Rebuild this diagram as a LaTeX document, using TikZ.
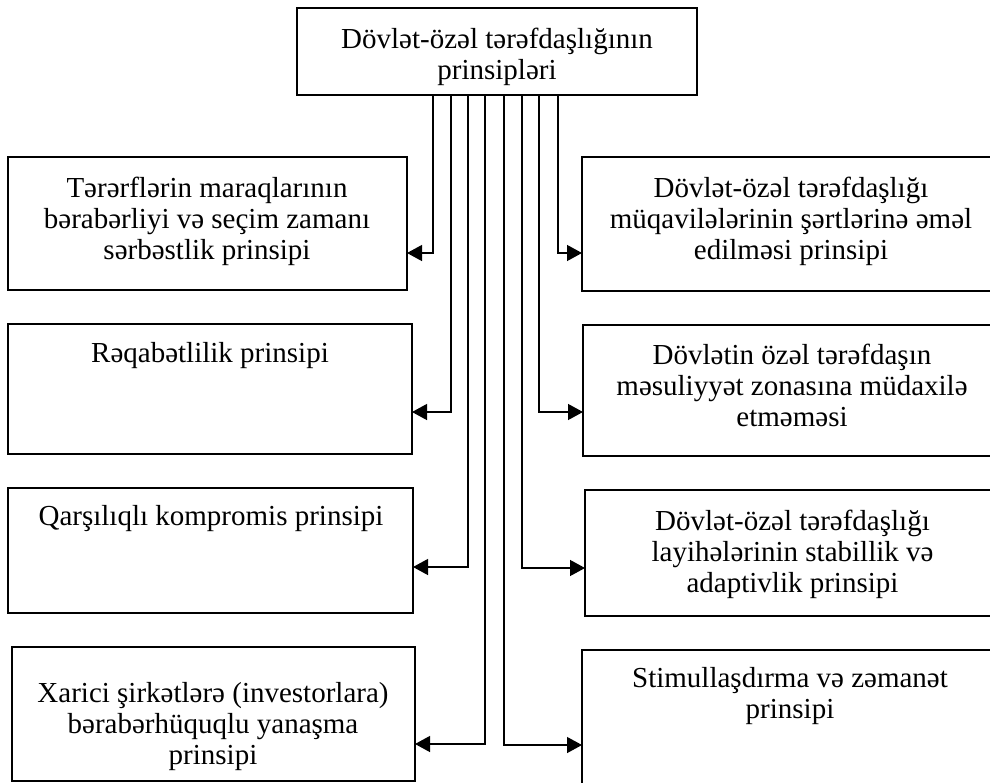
\documentclass[tikz,border=0pt]{standalone}
\usepackage{fontspec}
\setmainfont{Liberation Serif}
\usetikzlibrary{arrows.meta}
\begin{document}
\begin{tikzpicture}[x=1pt,y=-1pt,
  box/.style={draw, line width=1.1pt, inner sep=0pt, outer sep=0pt, anchor=north west},
  lbl/.style={anchor=north, inner sep=0pt, align=center, font=\fontsize{29}{31}\selectfont},
  conn/.style={line width=1.3pt, -{Triangle[length=15pt,width=16pt]}}]
\useasboundingbox (0,0) rectangle (990,782);
\clip (0,0) rectangle (990,782);
% boxes
\node[box, minimum width=400pt, minimum height=87pt] (top) at (297,8) {};
\node[box, minimum width=399pt, minimum height=133pt] (L1) at (8,157) {};
\node[box, minimum width=404pt, minimum height=130pt] (L2) at (8,324) {};
\node[box, minimum width=405pt, minimum height=125pt] (L3) at (8,488) {};
\node[box, minimum width=403pt, minimum height=134pt] (L4) at (12,647) {};
\node[box, minimum width=420pt, minimum height=134pt] (R1) at (582,157) {};
\node[box, minimum width=420pt, minimum height=131pt] (R2) at (583,325) {};
\node[box, minimum width=420pt, minimum height=126pt] (R3) at (585,490) {};
\node[box, minimum width=420pt, minimum height=150pt] (R4) at (582,650) {};
% texts
\node[lbl] (ttop) at (497,26.3) {\strut Dövlət-özəl tərəfdaşlığının\\prinsipləri};
\node[lbl] (tL1) at (207,175.3) {\strut Tərərflərin maraqlarının\\bərabərliyi və seçim zamanı\\sərbəstlik prinsipi};
\node[lbl] (tL2) at (210,340.3) {\strut Rəqabətlilik prinsipi};
\node[lbl] (tL3) at (211,503.3) {\strut Qarşılıqlı kompromis prinsipi};
\node[lbl] (tL4) at (213,680.3) {\strut Xarici şirkətlərə (investorlara)\\bərabərhüquqlu yanaşma\\prinsipi};
\node[lbl] (tR1) at (791,175.3) {\strut Dövlət-özəl tərəfdaşlığı\\müqavilələrinin şərtlərinə əməl\\edilməsi prinsipi};
\node[lbl] (tR2) at (792,342.3) {\strut Dövlətin özəl tərəfdaşın\\məsuliyyət zonasına müdaxilə\\etməməsi};
\node[lbl] (tR3) at (792.5,508.3) {\strut Dövlət-özəl tərəfdaşlığı\\layihələrinin stabillik və\\adaptivlik prinsipi};
\node[lbl] (tR4) at (790,665.3) {\strut Stimullaşdırma və zəmanət\\prinsipi};
% branch points
\coordinate (b1) at (433,253);
\coordinate (b2) at (451,412);
\coordinate (b3) at (468,567);
\coordinate (b4) at (485,744);
\coordinate (b5) at (504,745);
\coordinate (b6) at (522,568);
\coordinate (b7) at (539,412);
\coordinate (b8) at (558,253);
% connectors
\draw[conn] (top.south -| b1) -- (b1) -- (L1.east |- b1);
\draw[conn] (top.south -| b2) -- (b2) -- (L2.east |- b2);
\draw[conn] (top.south -| b3) -- (b3) -- (L3.east |- b3);
\draw[conn] (top.south -| b4) -- (b4) -- (L4.east |- b4);
\draw[conn] (top.south -| b5) -- (b5) -- (R4.west |- b5);
\draw[conn] (top.south -| b6) -- (b6) -- (R3.west |- b6);
\draw[conn] (top.south -| b7) -- (b7) -- (R2.west |- b7);
\draw[conn] (top.south -| b8) -- (b8) -- (R1.west |- b8);
\end{tikzpicture}
\end{document}
